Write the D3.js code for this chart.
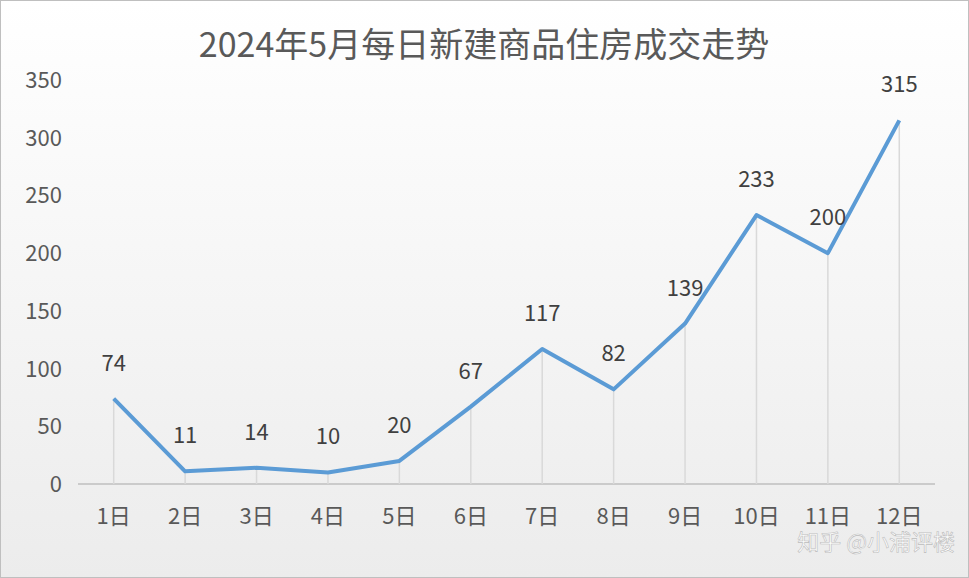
<!DOCTYPE html><html><head><meta charset="utf-8">
<script src="https://cdn.jsdelivr.net/npm/d3@7"></script>
<style>body{margin:0;background:#fff}</style></head><body>
<svg id="c" width="969" height="578"></svg>
<script>
const categories=["1日","2日","3日","4日","5日","6日","7日","8日","9日","10日","11日","12日"];
const values=[74,11,14,10,20,67,117,82,139,233,200,315];
const yTicks=[0,50,100,150,200,250,300,350];
const title="2024年5月每日新建商品住房成交走势";
const svg=d3.select("#c");
const font="'Noto Sans CJK SC','Open Sans',sans-serif";
const defs=svg.append("defs");
const g=defs.append("linearGradient").attr("id","bg").attr("x1",0).attr("y1",0).attr("x2",0).attr("y2",1);
g.append("stop").attr("offset","0%").attr("stop-color","#ffffff");
g.append("stop").attr("offset","100%").attr("stop-color","#ececec");
svg.append("rect").attr("x",0.5).attr("y",0.5).attr("width",968).attr("height",577).attr("fill","url(#bg)").attr("stroke","#bfbfbf");
const x=d3.scaleBand().domain(categories).range([78,935]);
const y=d3.scaleLinear().domain([0,350]).range([484,80]);
svg.append("text").attr("x",484).attr("y",57).attr("text-anchor","middle").attr("font-family",font).attr("font-size",34).attr("fill","#595959").text(title);
svg.selectAll(".yt").data(yTicks).enter().append("text").attr("x",62).attr("y",d=>y(d)+8).attr("text-anchor","end").attr("font-family",font).attr("font-size",22).attr("fill","#595959").text(d=>d);
svg.append("line").attr("x1",78).attr("x2",935).attr("y1",y(0)).attr("y2",y(0)).attr("stroke","#bfbfbf").attr("stroke-width",1.5);
const cx=d=>x(d)+x.bandwidth()/2;
svg.selectAll(".dl").data(categories).enter().append("line").attr("x1",cx).attr("x2",cx).attr("y1",(d,i)=>y(values[i])).attr("y2",y(0)).attr("stroke","#d9d9d9").attr("stroke-width",1.5);
svg.selectAll(".xt").data(categories).enter().append("text").attr("x",cx).attr("y",524).attr("text-anchor","middle").attr("font-family",font).attr("font-size",22).attr("fill","#595959").text(d=>d);
const line=d3.line().x((d,i)=>cx(categories[i])).y(d=>y(d));
svg.append("path").datum(values).attr("d",line).attr("fill","none").attr("stroke","#5b9bd5").attr("stroke-width",4).attr("stroke-linejoin","round");
svg.selectAll(".lb").data(values).enter().append("text").attr("x",(d,i)=>cx(categories[i])).attr("y",d=>y(d)-28).attr("text-anchor","middle").attr("font-family",font).attr("font-size",22).attr("fill","#404040").text(d=>d);
svg.append("text").attr("x",955).attr("y",550).attr("text-anchor","end").attr("font-family",font).attr("font-size",22).attr("fill","#ffffff").attr("stroke","#bbbbbb").attr("stroke-width",0.6).text("知乎 @小浦评楼");
</script></body></html>
